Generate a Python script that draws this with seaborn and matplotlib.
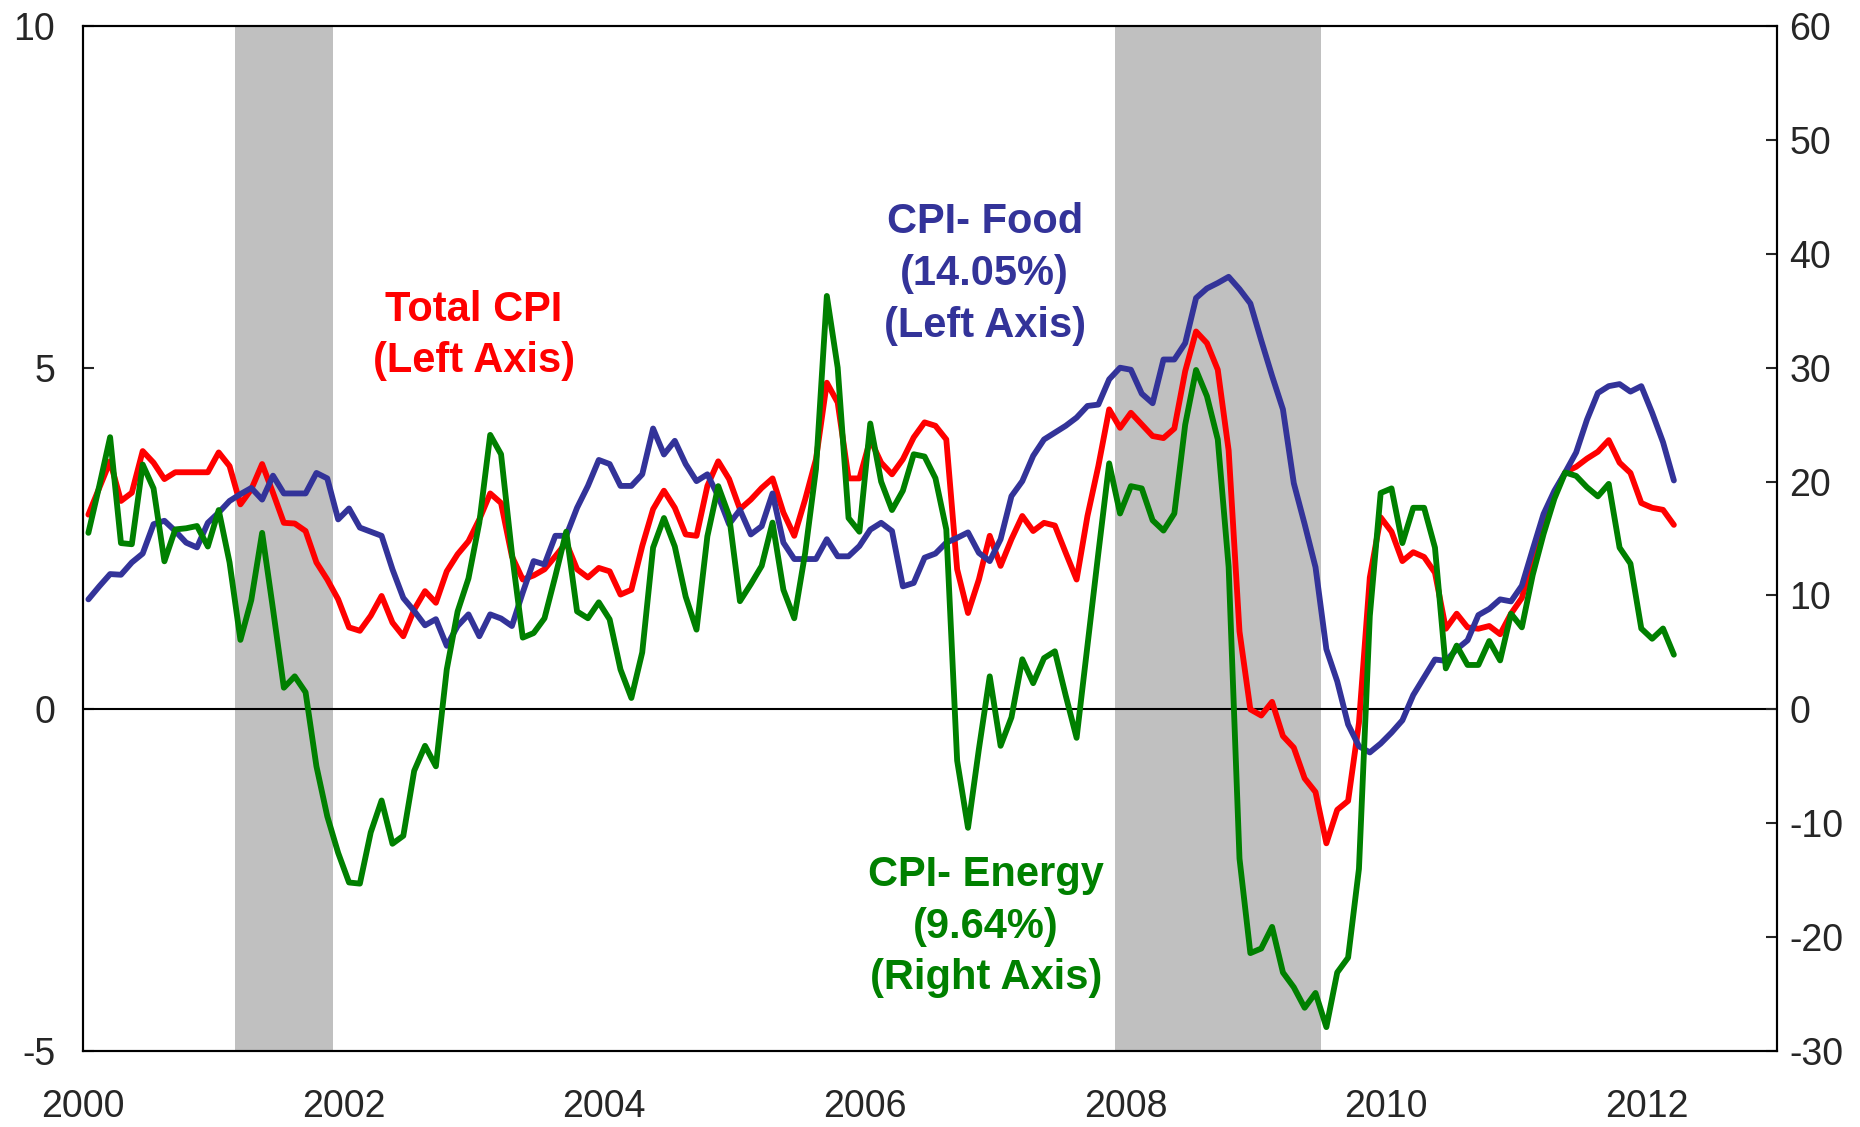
import pandas as pd
import matplotlib.pyplot as plt
import seaborn as sns

sns.set_style("white")
plt.rcParams['font.family'] = ['Liberation Sans', 'DejaVu Sans']
plt.rcParams['axes.unicode_minus'] = False

# monthly year-over-year changes, Jan 2000 - Mar 2012
total_cpi = [
    2.85, 3.24, 3.63, 3.05, 3.17, 3.78, 3.61, 3.37, 3.47, 3.47, 3.47, 3.47,
    3.76, 3.56, 3.00, 3.22, 3.59, 3.17, 2.73, 2.72, 2.61, 2.15, 1.90, 1.61,
    1.20, 1.15, 1.37, 1.66, 1.27, 1.07, 1.46, 1.73, 1.56, 2.02, 2.27, 2.46,
    2.78, 3.16, 3.02, 2.24, 1.90, 1.96, 2.05, 2.24, 2.44, 2.05, 1.93, 2.07,
    2.02, 1.68, 1.75, 2.39, 2.93, 3.20, 2.95, 2.56, 2.54, 3.27, 3.63, 3.37,
    2.93, 3.07, 3.24, 3.38, 2.88, 2.54, 3.07, 3.66, 4.78, 4.49, 3.38, 3.38,
    3.95, 3.61, 3.44, 3.66, 3.98, 4.20, 4.15, 3.95, 2.05, 1.41, 1.90, 2.54,
    2.10, 2.49, 2.83, 2.61, 2.73, 2.69, 2.29, 1.90, 2.83, 3.56, 4.39, 4.12,
    4.34, 4.17, 4.00, 3.97, 4.11, 4.95, 5.53, 5.36, 4.97, 3.79, 1.14, 0.00,
    -0.09, 0.11, -0.39, -0.56, -1.01, -1.21, -1.96, -1.47, -1.34, -0.20, 1.93, 2.81,
    2.60, 2.17, 2.30, 2.23, 2.00, 1.18, 1.40, 1.20, 1.18, 1.22, 1.10, 1.40,
    1.63, 2.19, 2.79, 3.16, 3.47, 3.55, 3.67, 3.77, 3.94, 3.61, 3.46, 3.02,
    2.95, 2.92, 2.70,
]
cpi_food = [
    1.61, 1.80, 1.98, 1.97, 2.15, 2.28, 2.71, 2.76, 2.61, 2.44, 2.37, 2.73,
    2.88, 3.05, 3.15, 3.24, 3.07, 3.42, 3.16, 3.16, 3.16, 3.46, 3.38, 2.78,
    2.94, 2.66, 2.60, 2.54, 2.05, 1.63, 1.44, 1.23, 1.32, 0.93, 1.22, 1.39,
    1.07, 1.39, 1.33, 1.22, 1.71, 2.17, 2.12, 2.54, 2.54, 2.95, 3.27, 3.65,
    3.59, 3.27, 3.27, 3.44, 4.11, 3.73, 3.93, 3.59, 3.34, 3.44, 3.12, 2.71,
    2.92, 2.56, 2.68, 3.16, 2.44, 2.20, 2.20, 2.20, 2.49, 2.24, 2.24, 2.39,
    2.63, 2.73, 2.61, 1.80, 1.85, 2.22, 2.28, 2.44, 2.51, 2.59, 2.29, 2.17,
    2.49, 3.12, 3.34, 3.71, 3.95, 4.05, 4.15, 4.27, 4.44, 4.46, 4.83, 5.00,
    4.97, 4.62, 4.48, 5.12, 5.12, 5.36, 6.02, 6.16, 6.24, 6.33, 6.15, 5.94,
    5.40, 4.88, 4.39, 3.31, 2.71, 2.08, 0.88, 0.41, -0.22, -0.54, -0.63, -0.50,
    -0.34, -0.16, 0.21, 0.47, 0.73, 0.71, 0.88, 1.01, 1.38, 1.47, 1.61, 1.58,
    1.81, 2.34, 2.86, 3.20, 3.47, 3.76, 4.24, 4.63, 4.73, 4.76, 4.65, 4.73,
    4.34, 3.91, 3.35,
]
cpi_energy = [
    15.5, 19.6, 23.9, 14.6, 14.5, 21.5, 19.4, 13.0, 15.8, 15.9, 16.1, 14.3,
    17.5, 12.9, 6.1, 9.6, 15.5, 8.8, 1.9, 2.9, 1.5, -5.0, -9.4, -12.6,
    -15.2, -15.3, -10.8, -8.0, -11.8, -11.1, -5.4, -3.2, -5.0, 3.5, 8.6, 11.5,
    16.4, 24.1, 22.4, 13.7, 6.3, 6.7, 8.0, 11.7, 15.6, 8.6, 8.0, 9.4,
    7.9, 3.5, 1.0, 5.0, 14.2, 16.8, 14.3, 9.9, 7.0, 15.2, 19.6, 17.0,
    9.5, 11.0, 12.6, 16.4, 10.5, 8.0, 13.7, 21.1, 36.3, 30.0, 16.8, 15.6,
    25.1, 20.0, 17.5, 19.2, 22.4, 22.2, 20.3, 15.8, -4.5, -10.4, -3.5, 2.9,
    -3.2, -0.7, 4.4, 2.3, 4.5, 5.1, 1.2, -2.5, 5.6, 13.7, 21.6, 17.2,
    19.6, 19.4, 16.6, 15.7, 17.2, 25.0, 29.8, 27.5, 23.7, 12.5, -13.1, -21.4,
    -21.0, -19.1, -23.1, -24.4, -26.2, -24.9, -27.9, -23.1, -21.8, -14.0, 8.2, 19.0,
    19.4, 14.6, 17.7, 17.7, 14.2, 3.6, 5.6, 3.9, 3.9, 6.0, 4.3, 8.4,
    7.2, 11.8, 15.4, 18.5, 20.8, 20.5, 19.5, 18.7, 19.8, 14.2, 12.8, 7.1,
    6.2, 7.1, 4.8,
]

# recessions (start, end) in decimal years
recessions = [(2001 + 2 / 12, 2001 + 11 / 12), (2007 + 11 / 12, 2009.5)]

dates = pd.date_range("2000-01-01", periods=len(total_cpi), freq="MS")
df = pd.DataFrame({
    "year": dates.year + (dates.month - 0.5) / 12,
    "total": total_cpi,
    "food": cpi_food,
    "energy": cpi_energy,
})

fig = plt.figure(figsize=(18.6, 11.27), dpi=100)
ax = fig.add_axes([0.0446, 0.0674, 0.9108, 0.9095])
ax2 = ax.twinx()

for start, end in recessions:
    ax.axvspan(start, end, color="#C0C0C0", lw=0, zorder=0)
ax.axhline(0, color="black", lw=1.5, zorder=1)

sns.lineplot(data=df, x="year", y="total", ax=ax, color="#FF0000", lw=4.2, zorder=3)
sns.lineplot(data=df, x="year", y="food", ax=ax, color="#333399", lw=4.2, zorder=3)
sns.lineplot(data=df, x="year", y="energy", ax=ax2, color="#008000", lw=4.2, zorder=3)

ax.set_xlim(2000, 2013)
ax.set_ylim(-5, 10)
ax2.set_ylim(-30, 60)
ax.set_xticks(range(2000, 2013, 2))
ax.set_yticks([-5, 0, 5, 10])
ax2.set_yticks(range(-30, 61, 10))
for a in (ax, ax2):
    a.set_xlabel("")
    a.set_ylabel("")
    for s in a.spines.values():
        s.set_color("black")
        s.set_linewidth(1.5)

ax.tick_params(axis="x", direction="in", length=8, width=1.5, labelsize=27, pad=27)
ax.tick_params(axis="y", direction="in", length=8, width=1.5, labelsize=27, pad=20)
ax2.tick_params(axis="y", direction="in", length=8, width=1.5, labelsize=27, pad=9)

txt = dict(fontsize=30, fontweight="bold", ha="center", va="center",
           linespacing=1.38, transform=ax.transData)
ax2.text(2003.0, 5.47, "Total CPI\n(Left Axis)", color="#FF0000", **txt)
ax2.text(2006.92, 6.37, "CPI- Food\n(14.05%)\n(Left Axis)", color="#333399", **txt)
ax2.text(2006.93, -3.18, "CPI- Energy\n(9.64%)\n(Right Axis)", color="#008000", **txt)

fig.savefig("out.png", dpi=100)
